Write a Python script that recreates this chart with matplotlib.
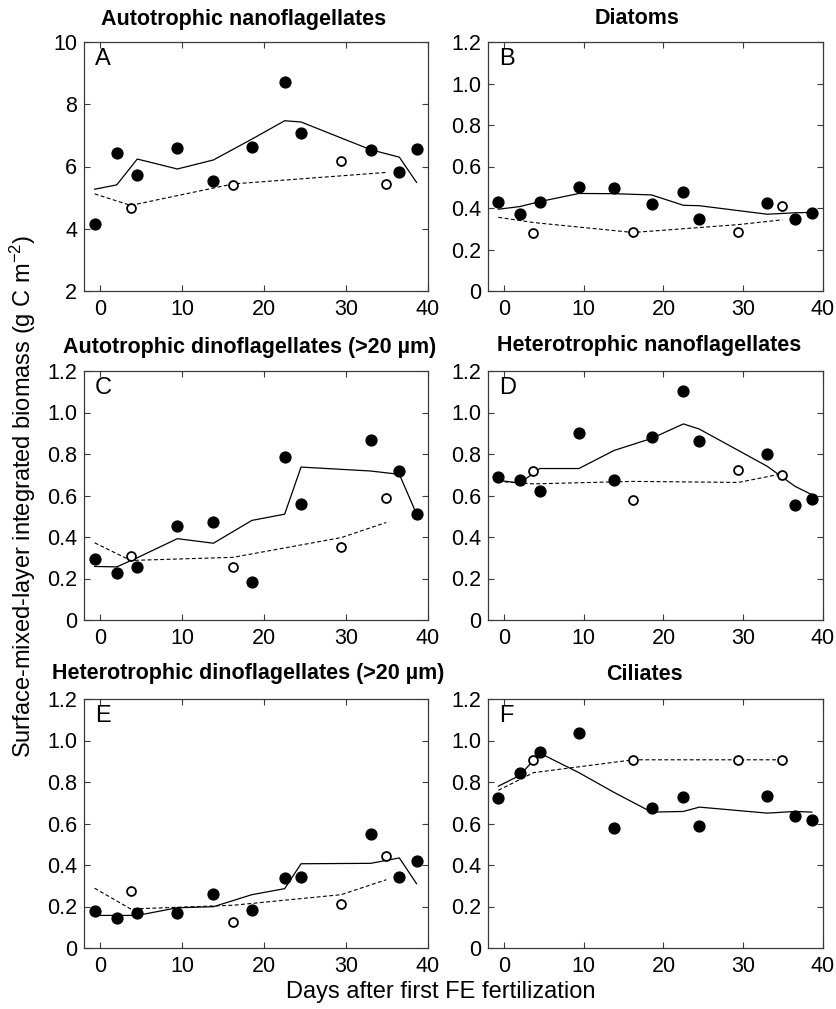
import matplotlib
matplotlib.use("Agg")
import matplotlib.pyplot as plt
from matplotlib.ticker import FuncFormatter

plt.rcParams['font.family'] = ['Liberation Sans', 'DejaVu Sans']
plt.rcParams['mathtext.fontset'] = 'custom'
plt.rcParams['mathtext.rm'] = 'Liberation Sans'
plt.rcParams['mathtext.it'] = 'Liberation Sans:italic'
plt.rcParams['mathtext.bf'] = 'Liberation Sans:bold'

# ---- data ----
days_filled = [-0.7, 2.0, 4.5, 9.4, 13.8, 18.5, 22.5, 24.5, 33.0, 36.5, 38.6]
days_open = [3.7, 16.2, 29.4, 34.9]
days_dash = [-0.7, 3.7, 16.2, 29.4, 34.9]

titles = ["Autotrophic nanoflagellates", "Diatoms",
          "Autotrophic dinoflagellates (>20 µm)", "Heterotrophic nanoflagellates",
          "Heterotrophic dinoflagellates (>20 µm)", "Ciliates"]
letters = ["A", "B", "C", "D", "E", "F"]

A_filled = [4.14, 6.43, 5.72, 6.58, 5.52, 6.62, 8.70, 7.09, 6.53, 5.83, 6.56]
A_open = [4.68, 5.42, 6.18, 5.44]
A_solid = [5.27, 5.41, 6.24, 5.92, 6.21, 6.88, 7.47, 7.43, 6.54, 6.30, 5.49]
A_dash = [5.12, 4.75, 5.44, 5.70, 5.81]

B_filled = [0.428, 0.370, 0.431, 0.500, 0.494, 0.421, 0.476, 0.346, 0.425, 0.349, 0.378]
B_open = [0.278, 0.283, 0.286, 0.410]
B_solid = [0.394, 0.407, 0.431, 0.470, 0.469, 0.463, 0.413, 0.411, 0.370, 0.377, 0.379]
B_dash = [0.355, 0.330, 0.282, 0.320, 0.343]

C_filled = [0.292, 0.228, 0.257, 0.452, 0.472, 0.184, 0.786, 0.560, 0.868, 0.719, 0.509]
C_open = [0.310, 0.257, 0.350, 0.586]
C_solid = [0.258, 0.256, 0.300, 0.392, 0.370, 0.480, 0.510, 0.737, 0.718, 0.702, 0.511]
C_dash = [0.372, 0.287, 0.302, 0.397, 0.470]

D_filled = [0.688, 0.673, 0.623, 0.900, 0.675, 0.882, 1.105, 0.863, 0.799, 0.554, 0.583]
D_open = [0.720, 0.577, 0.723, 0.701]
D_solid = [0.673, 0.660, 0.730, 0.730, 0.817, 0.875, 0.945, 0.920, 0.741, 0.644, 0.604]
D_dash = [0.668, 0.656, 0.668, 0.663, 0.705]

E_filled = [0.178, 0.145, 0.169, 0.170, 0.259, 0.183, 0.336, 0.342, 0.549, 0.342, 0.421]
E_open = [0.275, 0.125, 0.214, 0.445]
E_solid = [0.157, 0.157, 0.157, 0.194, 0.199, 0.257, 0.286, 0.406, 0.408, 0.434, 0.310]
E_dash = [0.288, 0.188, 0.206, 0.257, 0.329]

F_filled = [0.724, 0.844, 0.944, 1.035, 0.580, 0.673, 0.727, 0.590, 0.731, 0.636, 0.618]
F_open = [0.908, 0.907, 0.908, 0.908]
F_solid = [0.780, 0.832, 0.939, 0.845, 0.750, 0.655, 0.658, 0.679, 0.650, 0.658, 0.655]
F_dash = [0.760, 0.845, 0.907, 0.907, 0.907]

panels = [
    (A_filled, A_open, A_solid, A_dash),
    (B_filled, B_open, B_solid, B_dash),
    (C_filled, C_open, C_solid, C_dash),
    (D_filled, D_open, D_solid, D_dash),
    (E_filled, E_open, E_solid, E_dash),
    (F_filled, F_open, F_solid, F_dash),
]

xticks = [0, 10, 20, 30, 40]
yticks_A = [2, 4, 6, 8, 10]
yticks_other = [0, 0.2, 0.4, 0.6, 0.8, 1.0, 1.2]

# ---- layout ----
W, H = 836, 1009
fig = plt.figure(figsize=(W / 100, H / 100), dpi=100)

col_x = [(84, 428), (488, 823)]
row_y = [(42, 291), (371, 620), (699, 948)]

title_pos = [(244, 19), (637, 19), (250, 347), (649, 345), (248, 673), (644, 675)]

spine_col = '#3a3a3a'

def fmt_other(v, pos):
    if abs(v) < 1e-9:
        return "0"
    return "%.1f" % v

for i, (filled, opn, solid, dash) in enumerate(panels):
    r, c = divmod(i, 2)
    x0, x1 = col_x[c]
    y0, y1 = row_y[r]
    ax = fig.add_axes([x0 / W, 1 - y1 / H, (x1 - x0) / W, (y1 - y0) / H])
    ax.plot(days_filled, solid, '-', color='black', lw=0.9, zorder=2)
    ax.plot(days_dash, dash, '--', color='black', lw=0.8, dashes=(3.5, 2.2), zorder=2)
    ax.plot(days_filled, filled, 'o', color='black', ms=7.8, mec='black', zorder=3)
    ax.plot(days_open, opn, 'o', mfc='white', mec='black', ms=6.4, mew=1.3, zorder=4)
    ax.set_xlim(-2, 40)
    ax.set_xticks(xticks)
    if i == 0:
        ax.set_ylim(2, 10)
        ax.set_yticks(yticks_A)
    else:
        ax.set_ylim(0, 1.2)
        ax.set_yticks(yticks_other)
        ax.yaxis.set_major_formatter(FuncFormatter(fmt_other))
    ax.tick_params(direction='in', length=4, width=0.8, top=True, right=True,
                   labelsize=15.5, colors='black')
    ax.tick_params(axis='x', pad=6)
    ax.tick_params(axis='y', pad=5)
    for sp in ax.spines.values():
        sp.set_color(spine_col)
        sp.set_linewidth(0.9)
    ax.tick_params(color=spine_col)
    ax.text(0.032, 0.975, letters[i], transform=ax.transAxes, ha='left', va='top',
            fontsize=17)
    tx, ty = title_pos[i]
    fig.text(tx / W, 1 - ty / H, titles[i], ha='center', va='center',
             fontsize=15.5, fontweight='bold')

fig.text(23 / W, 1 - 496 / H, r"Surface-mixed-layer integrated biomass (g C m$^{-2}$)",
         rotation=90, ha='center', va='center', fontsize=17)
fig.text(441 / W, 1 - 992 / H, "Days after first FE fertilization",
         ha='center', va='center', fontsize=17)

fig.savefig("out.png", dpi=100)
